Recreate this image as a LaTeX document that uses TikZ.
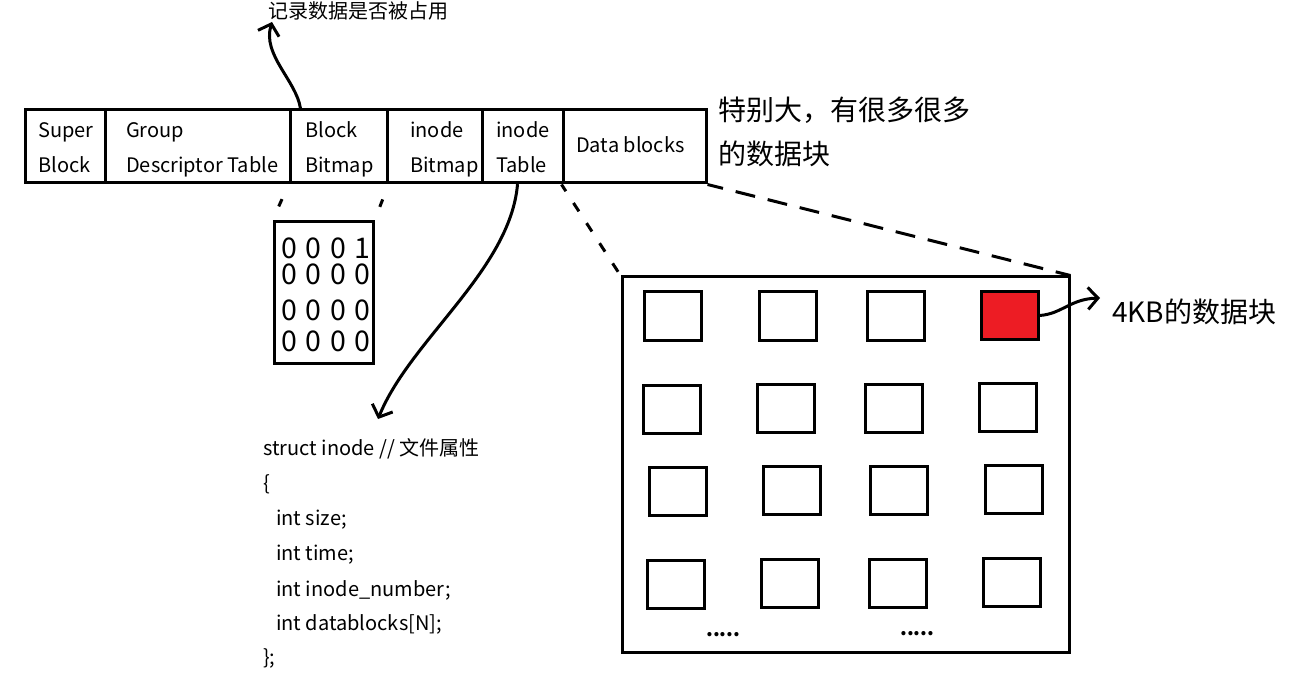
\documentclass[tikz,border=0pt]{standalone}
\usepackage{fontspec}
\setmainfont{Noto Sans CJK SC}
\usetikzlibrary{arrows.meta}
\definecolor{paintred}{RGB}{237,28,36}
\newcommand\dsp{\hspace{8.6pt}}
\tikzset{
  cell/.style={draw, line width=3pt, inner sep=0pt, minimum height=73pt},
  lbl/.style={inner sep=0pt, anchor=base west, font=\fontsize{20}{24}\selectfont},
  big/.style={inner sep=0pt, anchor=base west, font=\fontsize{28}{32}\selectfont},
  digits/.style={inner sep=0pt, anchor=base west, font=\fontsize{28.5}{32}\selectfont},
  sq/.style={draw, line width=3pt, minimum width=57pt, minimum height=48pt, inner sep=0pt},
  frame/.style={draw, line width=3pt, inner sep=0pt},
  arr/.style={line width=3pt, line cap=round, -{Straight Barb[length=10pt,width=22pt]}},
  dsh/.style={line width=3pt}
}
\begin{document}
\begin{tikzpicture}[x=1pt,y=-1pt]
\useasboundingbox (0,0) rectangle (1294,679);

% ---- top row of the block group ----
\node[cell, minimum width=80pt]  (sb)  at (65,146.5)    {};
\node[cell, minimum width=185pt] (gdt) at (197.5,146.5) {};
\node[cell, minimum width=97pt]  (bb)  at (338.5,146.5) {};
\node[cell, minimum width=95pt]  (ib)  at (434.5,146.5) {};
\node[cell, minimum width=81pt]  (it)  at (522.5,146.5) {};
\node[cell, minimum width=143pt] (db)  at (634.5,146.5) {};

\node[lbl] (sb1) at (38,137.5) {Super};
\node[lbl] (sb2) at (38,172.5) {Block};
\node[lbl] (gd1) at (126,137.5) {Group};
\node[lbl] (gd2) at (126,172.5) {Descriptor Table};
\node[lbl] (bb1) at (305,137.5) {Block};
\node[lbl] (bb2) at (305,172.5) {Bitmap};
\node[lbl] (ib1) at (410,137.5) {inode};
\node[lbl] (ib2) at (410,172.5) {Bitmap};
\node[lbl] (it1) at (496,137.5) {inode};
\node[lbl] (it2) at (496,172.5) {Table};
\node[lbl] (db1) at (576,152.5) {Data blocks};

% ---- notes ----
\node[lbl] (occ) at (268,19) {记录数据是否被占用};
\coordinate (occtip) at (272,22);
\draw[arr] ([xshift=12pt]bb.north west) .. controls (296,80) and (262,55) .. (occtip);

\node[big] (huge1) at (718,121) {特别大，有很多很多};
\node[big] (huge2) at (718,165) {的数据块};

% ---- bitmap ----
\node[frame, minimum width=99pt, minimum height=141pt] (bm) at (323.5,292.5) {};
\node[digits] (r1) at (281,259) {0\dsp 0\dsp 0\dsp 1};
\node[digits] (r2) at (281,285) {0\dsp 0\dsp 0\dsp 0};
\node[digits] (r3) at (281,320) {0\dsp 0\dsp 0\dsp 0};
\node[digits] (r4) at (281,352) {0\dsp 0\dsp 0\dsp 0};
\draw[dsh, dash pattern=on 8pt off 16pt, dash phase=8pt] (bb.south west) -- (bm.north west);
\draw[dsh, dash pattern=on 8pt off 16pt, dash phase=8pt] (bb.south east) -- (bm.north east);

% ---- inode struct ----
\coordinate (codetip) at (378,419);
\draw[arr] ([xshift=-5pt]it.south) .. controls (510,270) and (410,340) .. (codetip);
\node[lbl] (c1) at (263,455) {struct inode // 文件属性};
\node[lbl] (c2) at (263,490) {\{};
\node[lbl] (c3) at (276,525) {int size;};
\node[lbl] (c4) at (276,560) {int time;};
\node[lbl] (c5) at (276,596) {int inode\_number;};
\node[lbl] (c6) at (276,630) {int datablocks[N];};
\node[lbl] (c7) at (263,664) {\};};

% ---- data blocks ----
\node[frame, minimum width=447pt, minimum height=375pt] (area) at (845.5,464.5) {};
\draw[dsh, dash pattern=on 10pt off 14pt, dash phase=2pt] (db.south west) -- (area.north west);
\draw[dsh, dash pattern=on 20pt off 13pt, dash phase=4pt] (db.south east) -- (area.north east);

\node[sq] (b11) at (673,316) {};
\node[sq] (b12) at (788,316) {};
\node[sq] (b13) at (895.5,316) {};
\node[sq, fill=paintred] (b14) at (1009.5,315.5) {};
\node[sq] (b21) at (671.5,409) {};
\node[sq] (b22) at (785.5,408) {};
\node[sq] (b23) at (893.5,408) {};
\node[sq] (b24) at (1007.5,407.5) {};
\node[sq] (b31) at (677.5,491.5) {};
\node[sq] (b32) at (791.5,490.5) {};
\node[sq] (b33) at (899,490.5) {};
\node[sq] (b34) at (1013.5,489.5) {};
\node[sq] (b41) at (675.5,584) {};
\node[sq] (b42) at (789.5,583) {};
\node[sq] (b43) at (897.5,583) {};
\node[sq] (b44) at (1011.5,582) {};

\node[lbl, font=\bfseries\fontsize{19.5}{23}\selectfont] (dots1) at (706,636) {.....};
\node[lbl, font=\bfseries\fontsize{19.5}{23}\selectfont] (dots2) at (900,635) {.....};

\node[big] (kb) at (1112,323) {4KB的数据块};
\coordinate (kbtip) at (1100,298);
\draw[arr] (b14.east) .. controls (1062,314) and (1070,299) .. (kbtip);
\end{tikzpicture}
\end{document}
